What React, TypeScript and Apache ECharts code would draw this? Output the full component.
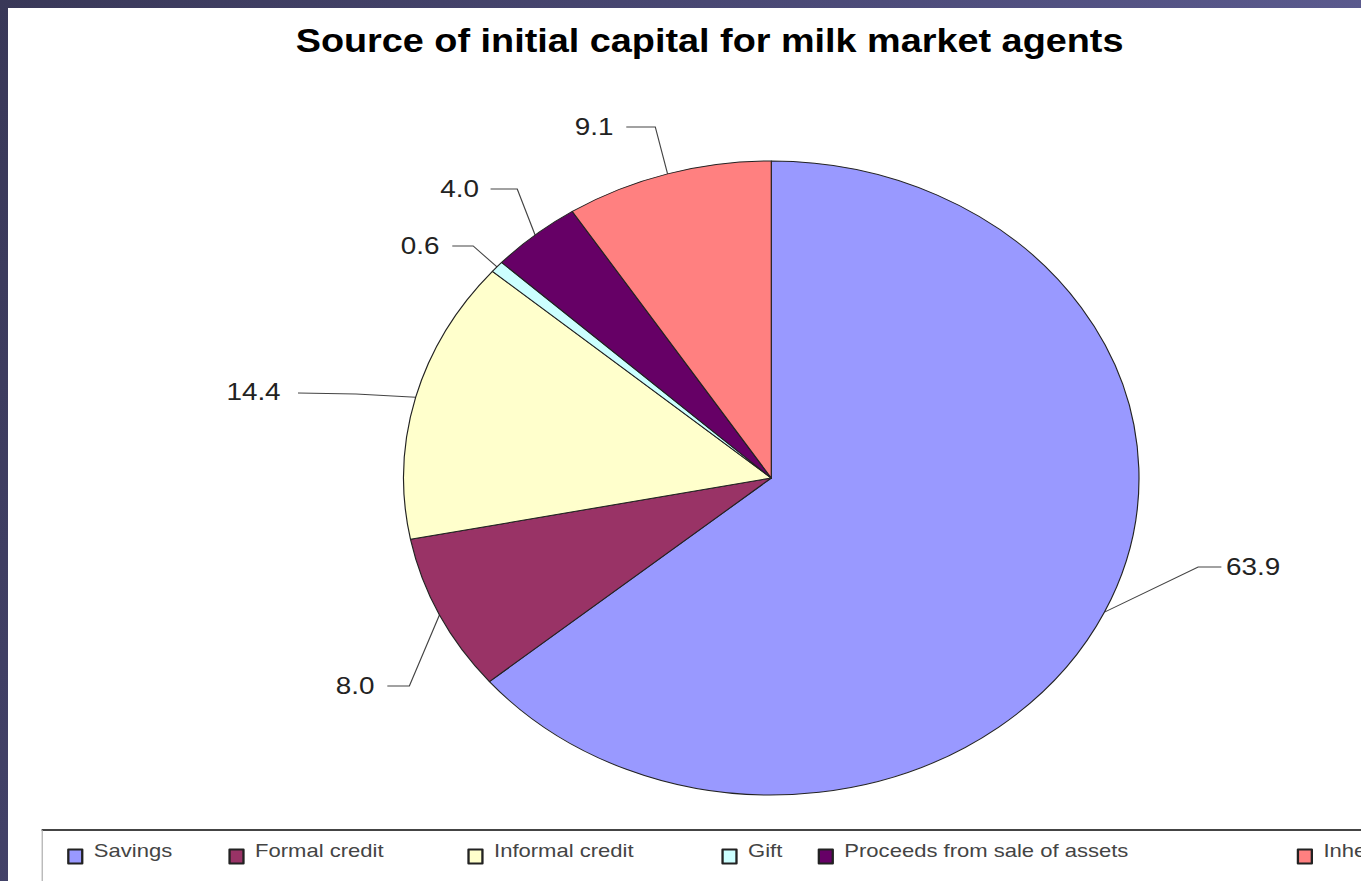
import React, { useEffect, useRef } from "react";
import * as echarts from "echarts";

// ---- data ----
const categories = [
  "Savings",
  "Formal credit",
  "Informal credit",
  "Gift",
  "Proceeds from sale of assets",
  "Inheritance",
];
const shares = [63.9, 8.0, 14.4, 0.6, 4.0, 9.1];
const titleText = "Source of initial capital for milk market agents";

// ---- styles / layout ----
const palette = ["#9999ff", "#993366", "#ffffcc", "#ccffff", "#660066", "#ff8080"];
const SX = 1.16; // horizontal stretch of the original slide
const CHART_W = 1167;
const CHART_H = 873;

// label anchor + guide-line bend/end (chart pixels, before stretch)
const labelLayouts = [
  { x: 1050, y: 559, align: "left", bend: [1026, 559], end: [1046, 559] },
  { x: 316, y: 678, align: "right", bend: [346, 678], end: [327, 678] },
  { x: 235, y: 384, align: "right", bend: [300, 386], end: [250, 385] },
  { x: 372, y: 238, align: "right", bend: [401, 238], end: [383, 238] },
  { x: 406, y: 181, align: "right", bend: [439, 181], end: [416, 181] },
  { x: 522, y: 119, align: "right", bend: [558, 119], end: [533, 119] },
];
const legendLefts = [51, 190, 396, 615, 698, 1111];

export default function App() {
  const ref = useRef<HTMLDivElement>(null);

  useEffect(() => {
    if (!ref.current) return;
    const chart = echarts.init(ref.current, null, { renderer: "svg" });
    const font = "'Liberation Sans', Arial, sans-serif";

    const legends = categories.map((name, i) => ({
      data: [name],
      left: legendLefts[i],
      top: 833,
      padding: 0,
      icon: "rect",
      itemWidth: 12,
      itemHeight: 14,
      selectedMode: false,
      formatter: "{t|{name}}",
      textStyle: {
        fontFamily: font,
        fontSize: 19,
        color: "#444",
        rich: {
          t: {
            fontFamily: font,
            fontSize: 19,
            color: "#444",
            padding: [0, 0, 12, 5],
          },
        },
      },
    }));

    chart.setOption({
      animation: false,
      backgroundColor: "#ffffff",
      title: {
        text: titleText,
        left: 243,
        top: 11,
        textStyle: {
          fontFamily: font,
          fontSize: 32.6,
          fontWeight: "bold",
          color: "#000",
        },
      },
      legend: legends,
      graphic: [
        {
          type: "line",
          shape: { x1: 29, y1: 822, x2: CHART_W + 10, y2: 822 },
          style: { stroke: "#444", lineWidth: 2 },
          silent: true,
        },
        {
          type: "line",
          shape: { x1: 29.5, y1: 822, x2: 29.5, y2: CHART_H + 10 },
          style: { stroke: "#aaa", lineWidth: 1 },
          silent: true,
        },
      ],
      series: [
        {
          type: "pie",
          center: [658, 470],
          radius: 317,
          startAngle: 90,
          clockwise: true,
          avoidLabelOverlap: false,
          data: categories.map((name, i) => ({
            name,
            value: shares[i],
            itemStyle: { color: palette[i] },
          })),
          itemStyle: { borderColor: "#222", borderWidth: 1 },
          label: {
            show: true,
            position: "outside",
            fontFamily: font,
            fontSize: 24,
            color: "#222",
            formatter: (p: any) => Number(p.value).toFixed(1),
          },
          labelLine: {
            show: true,
            lineStyle: { color: "#444", width: 1 },
          },
          labelLayout: (params: any) => {
            const l = labelLayouts[params.dataIndex];
            const edge = params.labelLinePoints
              ? params.labelLinePoints[0]
              : l.bend;
            return {
              x: l.x,
              y: l.y,
              align: l.align,
              verticalAlign: "middle",
              labelLinePoints: [edge, l.bend, l.end],
            };
          },
          emphasis: { disabled: true },
        },
      ],
    });

    return () => chart.dispose();
  }, []);

  return (
    <div
      style={{
        position: "fixed",
        inset: 0,
        overflow: "hidden",
        background: "linear-gradient(115deg, #393858 0%, #4d4c7a 50%, #66669e 100%)",
      }}
    >
      <div
        ref={ref}
        style={{
          position: "absolute",
          left: 8,
          top: 8,
          width: CHART_W,
          height: CHART_H,
          background: "#fff",
          transform: `scaleX(${SX})`,
          transformOrigin: "0 0",
        }}
      />
    </div>
  );
}
